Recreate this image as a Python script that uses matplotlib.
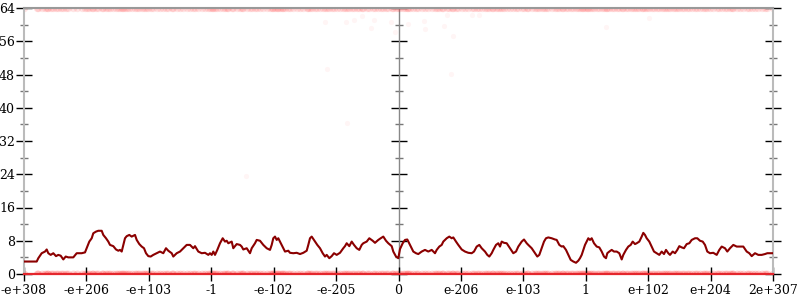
import matplotlib
matplotlib.use('Agg')
import matplotlib.pyplot as plt
import numpy as np

# position along the ordered float range (0 .. 749) and bits used at that point
bit_pos = [0, 12.7, 14.3, 17.7, 21, 22.7, 24.3, 26.7, 29.3, 32, 34.3, 36.7, 39.3, 41.7, 44.3,
           49.3, 52.7, 57.7, 61, 62.7, 65.3, 67.7, 69.3, 72, 74.3, 77.7, 79.3, 82, 84.3, 86,
           89.3, 92, 94.3, 96, 97.7, 99.3, 101, 102.7, 105.3, 107.7, 111, 112.7, 115.3, 117.7,
           120, 122, 124.3, 126.7, 129.3, 132.7, 136, 139.3, 142, 144.3, 147.7, 149.3, 152.7,
           156, 159.3, 162.7, 166, 169.3, 171, 174.3, 177.7, 181, 184.3,
           186, 187.7, 189.3, 191, 193.3, 196, 198.7, 201, 202.7, 204.3, 207.7, 209.3, 212.7,
           216, 217.7, 219.3, 222.7, 226, 227.7, 231, 232.7, 236, 239.3, 242.7, 246, 247.7,
           249.3, 251, 252.7, 254.3, 256, 257.7, 259.3, 261, 264.3, 266, 269.3, 272.7, 276,
           279.3, 282.7, 284.3, 286, 287.7, 291, 293.3, 296, 298.7, 301, 302.7, 305.3, 307.7,
           310, 312.7, 316, 319.3, 321, 322.7, 325.3, 327.7, 330, 332.7, 335.3, 337.7, 339.3,
           342.7, 345.3, 348.7, 351, 354.3, 356.7, 359.3, 362, 364.3, 367.7, 369.3, 372, 374.3,
           376, 378.7, 381, 383.3, 384.3, 386, 389.3, 392, 394.3, 397.7, 401, 404.3, 407.7, 411,
           412.7, 415.3, 417.7, 419.3, 422.7, 425.3, 427.7, 429.3, 432, 434.3, 437.7, 441,
           444.3, 447.7, 450, 452.7, 455.3, 457.7, 461, 463.3, 465.3, 467.7, 469.3, 472, 474.3,
           476, 477.7, 480, 482.7, 486, 489.3, 492, 494.3, 497.7, 500, 502.7, 504.3, 507.7, 511,
           513.3, 515.3, 517.7, 520, 522, 524.3, 527.7, 531, 532.7, 535.3, 537.7, 539.3, 542,
           544.3, 546.7, 549.3, 552, 554.3, 556, 557.7, 559.3, 561, 562.7, 564.3,
           566, 567.7, 570, 572.7, 575.3, 577.7, 580, 582, 583.3, 585.3, 587.7, 590, 592.7,
           595.3, 597.7, 599.3, 602, 604.3, 606.7, 608.7, 611, 612.7, 615.3, 617.7, 619.3, 621,
           622.7, 625.3, 627.7, 630, 632.7, 635.3, 637.7, 640, 642, 644.3, 646, 648.7, 651,
           653.3, 655.3, 657.7, 660, 662.7, 665.3, 667.7, 671, 673.3, 676, 678.7, 681, 683.3,
           686, 689.3, 692.7, 695.3, 697.7, 701, 703.3, 706, 707.7, 709.3, 712.7, 716, 719.3,
           722.7, 725.3, 727.7, 731, 734.3, 737.7, 741, 743.3, 749]

bits = [3.0, 3.0, 3.8, 5.0, 5.4, 5.9, 5.0, 4.6, 5.0, 4.3, 4.6, 4.4, 3.5, 4.2, 4.0,
        4.0, 5.0, 5.0, 5.2, 6.2, 7.8, 8.6, 9.8, 10.2, 10.4, 10.4, 9.4, 8.6, 7.8, 7.0,
        6.7, 5.9, 5.6, 5.8, 5.4, 7.0, 8.6, 9.1, 9.4, 9.0, 9.4, 8.2, 7.2, 6.6,
        6.2, 5.0, 4.3, 4.2, 4.6, 5.0, 5.4, 5.0, 6.2, 5.6, 5.0, 4.2, 5.0,
        5.4, 6.2, 7.0, 7.0, 6.2, 6.7, 5.4, 5.0, 5.1, 4.6,
        5.0, 4.6, 5.4, 4.6, 5.8, 7.4, 8.6, 7.8, 8.0, 7.4, 7.8, 6.2, 7.2,
        7.0, 6.6, 5.9, 6.2, 5.0, 6.2, 7.4, 8.2, 8.0, 7.0, 6.2, 5.8, 7.0,
        8.6, 9.0, 8.2, 8.6, 7.8, 7.0, 6.2, 5.4, 5.6, 5.1, 5.0, 5.1, 4.8,
        5.1, 5.6, 7.0, 8.6, 9.0, 7.8, 7.0, 6.2, 5.0, 4.2, 4.6, 3.8, 4.3,
        5.0, 4.6, 5.1, 6.2, 6.7, 7.4, 6.7, 7.8, 7.0, 6.2, 5.8, 7.0, 7.4,
        7.8, 8.6, 8.0, 7.5, 8.2, 8.6, 9.0, 8.0, 7.4, 6.7, 5.4, 4.2, 3.8,
        6.0, 7.4, 8.2, 8.3, 7.8, 7.0, 5.4, 5.0, 4.8, 5.4, 5.8, 5.4, 5.8, 5.0,
        5.8, 6.6, 7.0, 7.8, 8.6, 9.0, 8.6, 8.8, 7.8, 7.0, 5.9, 5.4,
        5.1, 5.0, 5.4, 6.6, 7.0, 6.2, 5.4, 4.6, 4.2, 5.0, 5.8, 7.0, 7.4,
        6.6, 7.8, 7.5, 7.4, 6.2, 5.0, 5.4, 6.6, 7.8, 8.3, 7.4, 7.0, 6.2, 5.0,
        4.2, 4.6, 6.2, 7.8, 8.6, 8.8, 8.6, 8.3, 8.2, 7.0, 6.6, 6.7, 5.8,
        4.6, 3.4, 3.0, 2.7, 3.2, 3.8, 4.6, 5.8, 7.0, 7.8, 8.6,
        8.2, 8.6, 7.4, 6.6, 6.4, 5.4, 4.2, 3.8, 5.0, 5.4, 5.8, 5.4, 5.4,
        5.0, 3.5, 4.6, 5.8, 6.6, 7.0, 7.8, 7.2, 7.4, 7.8, 9.0, 9.9, 9.4,
        8.6, 7.8, 6.6, 5.4, 5.0, 4.6, 5.4, 4.8, 5.8, 5.0, 4.6, 5.4, 5.0,
        5.8, 6.7, 6.4, 6.2, 7.2, 7.4, 8.2, 8.6, 8.6, 8.0, 7.8, 7.0, 5.4,
        5.0, 5.1, 4.6, 5.8, 6.6, 6.2, 5.4, 6.2, 6.6, 7.0, 6.6, 6.6, 6.6,
        5.4, 5.0, 4.3, 5.0, 4.6, 4.6, 4.8, 5.0, 5.0]

# a few isolated samples away from the 0 / 64 bands
stray_pos = [301, 322, 330, 338, 350, 347, 367, 371, 384, 400, 401, 420, 423, 429,
             448, 455, 303, 427, 625, 582, 323, 222]
stray_bits = [60.7, 60.7, 61.1, 62.1, 61.1, 59.2, 60.7, 58.2, 60.2, 60.9, 58.9, 59.7,
              62.2, 57.3, 62.2, 62.2, 49.3, 48.1, 61.7, 59.5, 36.3, 23.6]

tick_labels = ['-e+308', '-e+206', '-e+103', '-1', '-e-102', '-e-205', '0',
               'e-206', 'e-103', '1', 'e+102', 'e+204', '2e+307']
span = 749

plt.rcParams['font.family'] = 'DejaVu Serif'
fig = plt.figure(figsize=(8, 3), dpi=100)
ax = fig.add_axes([24 / 800, 26 / 300, 749 / 800, 266 / 300])

n = len(bit_pos)
ax.scatter(bit_pos, np.full(n, 64), s=28, color='#ff4040', alpha=0.14, lw=0)
ax.scatter(bit_pos, np.zeros(n), s=32, color='#ff3030', alpha=0.2, lw=0)
ax.scatter(stray_pos, stray_bits, s=14, color='#ff4040', alpha=0.05, lw=0)
ax.plot(bit_pos, np.zeros(n), color='#e4262c', lw=1.6, clip_on=False, zorder=3)
ax.plot(bit_pos, bits, color='#8b0000', lw=1.5, zorder=4)

ax.set_xlim(0, span)
ax.set_ylim(0, 64)

for side in ['left', 'right']:
    ax.spines[side].set_color('#bbbbbb')
    ax.spines[side].set_linewidth(1.5)
ax.spines['top'].set_color('#999999')
ax.spines['top'].set_linewidth(1.5)
ax.spines['bottom'].set_visible(False)

ax.set_xticks(np.linspace(0, span, 13))
ax.set_xticklabels(tick_labels)
ax.tick_params(axis='x', direction='inout', length=10, width=1, color='black',
               pad=2, labelsize=9)

ax.set_yticks(range(0, 65, 8))
ax.set_yticks(range(4, 64, 8), minor=True)
ax.tick_params(axis='y', which='major', direction='inout', length=11, width=1,
               color='black', left=True, right=True, pad=1, labelsize=9)
ax.tick_params(axis='y', which='minor', direction='inout', length=6, width=1,
               color='#777777', left=True, right=True)

mid = ax.secondary_yaxis(0.5)
mid.set_yticks(range(0, 65, 8))
mid.set_yticks(range(4, 64, 8), minor=True)
mid.set_yticklabels([])
mid.tick_params(which='major', direction='inout', length=11, width=1, color='black',
                labelleft=False, labelright=False)
mid.tick_params(which='minor', direction='inout', length=6, width=1, color='#777777')
for sp in mid.spines.values():
    sp.set_color('#888888')
    sp.set_linewidth(1)

fig.savefig('out.png', dpi=100)
